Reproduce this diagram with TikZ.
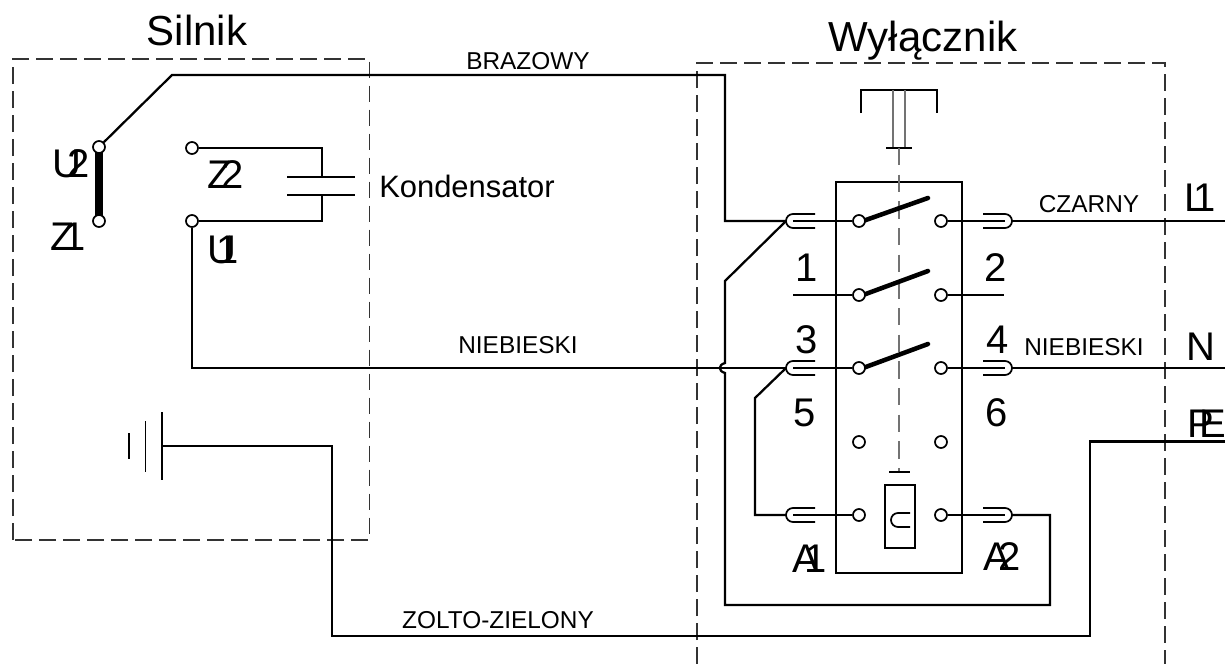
\documentclass[tikz,border=0pt]{standalone}
\usepackage{fontspec}
\setmainfont{Liberation Sans}
\tikzset{
  wire/.style={line width=1.7pt,line join=miter},
  thinw/.style={line width=1.3pt},
  frame/.style={draw=black!80,line width=0.85pt,dash pattern=on 12.5pt off 5.5pt},
  shaft/.style={draw=black!55,line width=1pt},
  term/.style={circle,draw=black,fill=white,line width=1.3pt,minimum size=9pt,inner sep=0pt},
  blade/.style={line width=3.4pt,line cap=round},
  big/.style={font=\fontsize{30}{32}\selectfont,inner sep=0pt,anchor=base},
  title/.style={font=\fontsize{31.5}{33}\selectfont,inner sep=0pt,anchor=base},
  mid/.style={font=\fontsize{23.2}{25}\selectfont,inner sep=0pt,anchor=base west},
  small/.style={font=\fontsize{18.3}{20}\selectfont,inner sep=0pt,anchor=base}
}
\newcommand{\plugL}[2]{\draw[thinw] (#1+29,#2-7) -- (#1+7,#2-7) arc (270:90:7) -- (#1+29,#2+7);}
\newcommand{\plugR}[2]{\draw[thinw] (#1-29,#2-7) -- (#1-7,#2-7) arc (-90:90:7) -- (#1-29,#2+7);}
\begin{document}
\begin{tikzpicture}[x=0.75pt,y=-0.75pt]
\useasboundingbox (0,0) rectangle (1225,664);
% frames
\draw[frame] (13,540) -- (13,59) -- (369.5,59) -- (369.5,540) -- cycle;
\draw[frame] (697,664) -- (697,63) -- (1165,63) -- (1165,664);
% switch box
\draw[wire] (836,182) rectangle (962,573);
% push button
\draw[wire] (861,113) -- (861,90) -- (937,90) -- (937,113);
\draw[shaft] (893,90) -- (893,148);
\draw[shaft] (905,90) -- (905,148);
\draw[line width=0.9pt] (886,148) -- (912,148);
\draw[shaft,dash pattern=on 13pt off 7pt] (899,148) -- (899,472);
\draw[line width=0.9pt] (889,472) -- (910,472);
% coil
\draw[thinw] (885,485) rectangle (915,548);
\draw[thinw] (910,513) -- (898,513) arc (270:90:7) -- (910,527);
% blades
\draw[blade] (863,221) -- (928,198);
\draw[blade] (863,295) -- (928,271);
\draw[blade] (863,368) -- (928,344);
% terminals
\node[term] (a1) at (859,221) {};
\node[term] (b1) at (941,221) {};
\node[term] (a2) at (859,295) {};
\node[term] (b2) at (941,295) {};
\node[term] (a3) at (859,368) {};
\node[term] (b3) at (941,368) {};
\node[term] (a4) at (859,442) {};
\node[term] (b4) at (941,442) {};
\node[term] (a5) at (859,515) {};
\node[term] (b5) at (941,515) {};
% motor terminals
\coordinate (lead) at (172,75);
\coordinate (cornerA) at (725,75);
\coordinate (cornerB) at (725,221);
\coordinate (plugA) at (786,221);
\coordinate (plugB) at (786,368);
\coordinate (plugC) at (786,515);
\coordinate (innerA) at (793,221);
\coordinate (innerB) at (793,368);
\coordinate (innerC) at (793,515);
\coordinate (outA) at (1012,221);
\coordinate (outB) at (1012,368);
\coordinate (outC) at (1012,515);
\coordinate (endA) at (1005,221);
\coordinate (endB) at (1005,368);
\coordinate (endC) at (1005,515);
\coordinate (hopT) at (725,363);
\coordinate (hopB) at (725,373);
\draw[line width=5.5pt] (99,147) -- (99,221);
\node[term] (u2) at (99,147) {};
\node[term] (z1) at (99,221) {};
\node[term] (z2) at (192,148) {};
\node[term] (u1) at (192,221) {};
% wires
\draw[wire] (u2) -- (lead) -- (cornerA) -- (cornerB) -- (plugA);
\draw[wire] (innerA) -- (a1);
\draw[wire] (plugA) -- (725,281) -- (hopT) .. controls (718,365) and (718,371) .. (hopB) -- (725,605) -- (1050,605) -- (1050,515) -- (outC);
\draw[wire] (u1) -- (192,368) -- (plugB);
\draw[wire] (innerB) -- (a3);
\draw[wire] (plugB) -- (755,398) -- (755,515) -- (plugC);
\draw[wire] (innerC) -- (a5);
\draw[wire] (b1) -- (endA);
\draw[wire] (b3) -- (endB);
\draw[wire] (b5) -- (endC);
\draw[wire] (outA) -- (1225,221);
\draw[wire] (outB) -- (1225,368);
\draw[wire] (793,295) -- (a2);
\draw[wire] (b2) -- (1004,295);
\draw[wire] (1225,441.5) -- (1090,441.5) -- (1090,636) -- (332,636) -- (332,446) -- (162,446);
% ground
\draw[wire] (162,412) -- (162,480);
\draw[thinw] (145.5,421) -- (145.5,472);
\draw[thinw] (129,433) -- (129,459);
% capacitor
\draw[thinw] (z2) -- (322,148) -- (322,177);
\draw[thinw] (u1) -- (322,221) -- (322,195);
\draw[thinw] (287,177) -- (355,177);
\draw[thinw] (287,195) -- (355,195);
% plugs
\plugL{786}{221}\plugL{786}{368}\plugL{786}{515}
\plugR{1012}{221}\plugR{1012}{368}\plugR{1012}{515}
% labels
\node[title] (tS) at (197,45) {Silnik};
\node[title] (tW) at (923,51) {Wyłącznik};
\node[big] (lU2) at (71,177) {U\kern-11pt 2};
\node[big] (lZ1) at (68,250) {Z\kern-9pt 1};
\node[big] (lZ2) at (226,188) {Z\kern-8pt 2};
\node[big] (lU1) at (223,263) {U\kern-15pt 1};
\node[big] (n1) at (807,281) {1};
\node[big] (n2) at (996,281) {2};
\node[big] (n3) at (807,353) {3};
\node[big] (n4) at (998,353) {4};
\node[big] (n5) at (805,426) {5};
\node[big] (n6) at (997,426) {6};
\node[big] (lA1) at (810,572) {A\kern-11pt 1};
\node[big] (lA2) at (1002,570) {A\kern-9pt 2};
\node[big] (lL1) at (1200,211) {L\kern-10pt 1};
\node[big] (lN) at (1201,360) {N};
\node[big] (lPE) at (1207,437) {P\kern-11pt E};
\node[mid] (kond) at (379,197) {Kondensator};
\node[small] at (528,69) {BRAZOWY};
\node[small] at (1089,212) {CZARNY};
\node[small] at (518,353) {NIEBIESKI};
\node[small] at (1084,355) {NIEBIESKI};
\node[small] at (498,628) {ZOLTO-ZIELONY};
\end{tikzpicture}
\end{document}
